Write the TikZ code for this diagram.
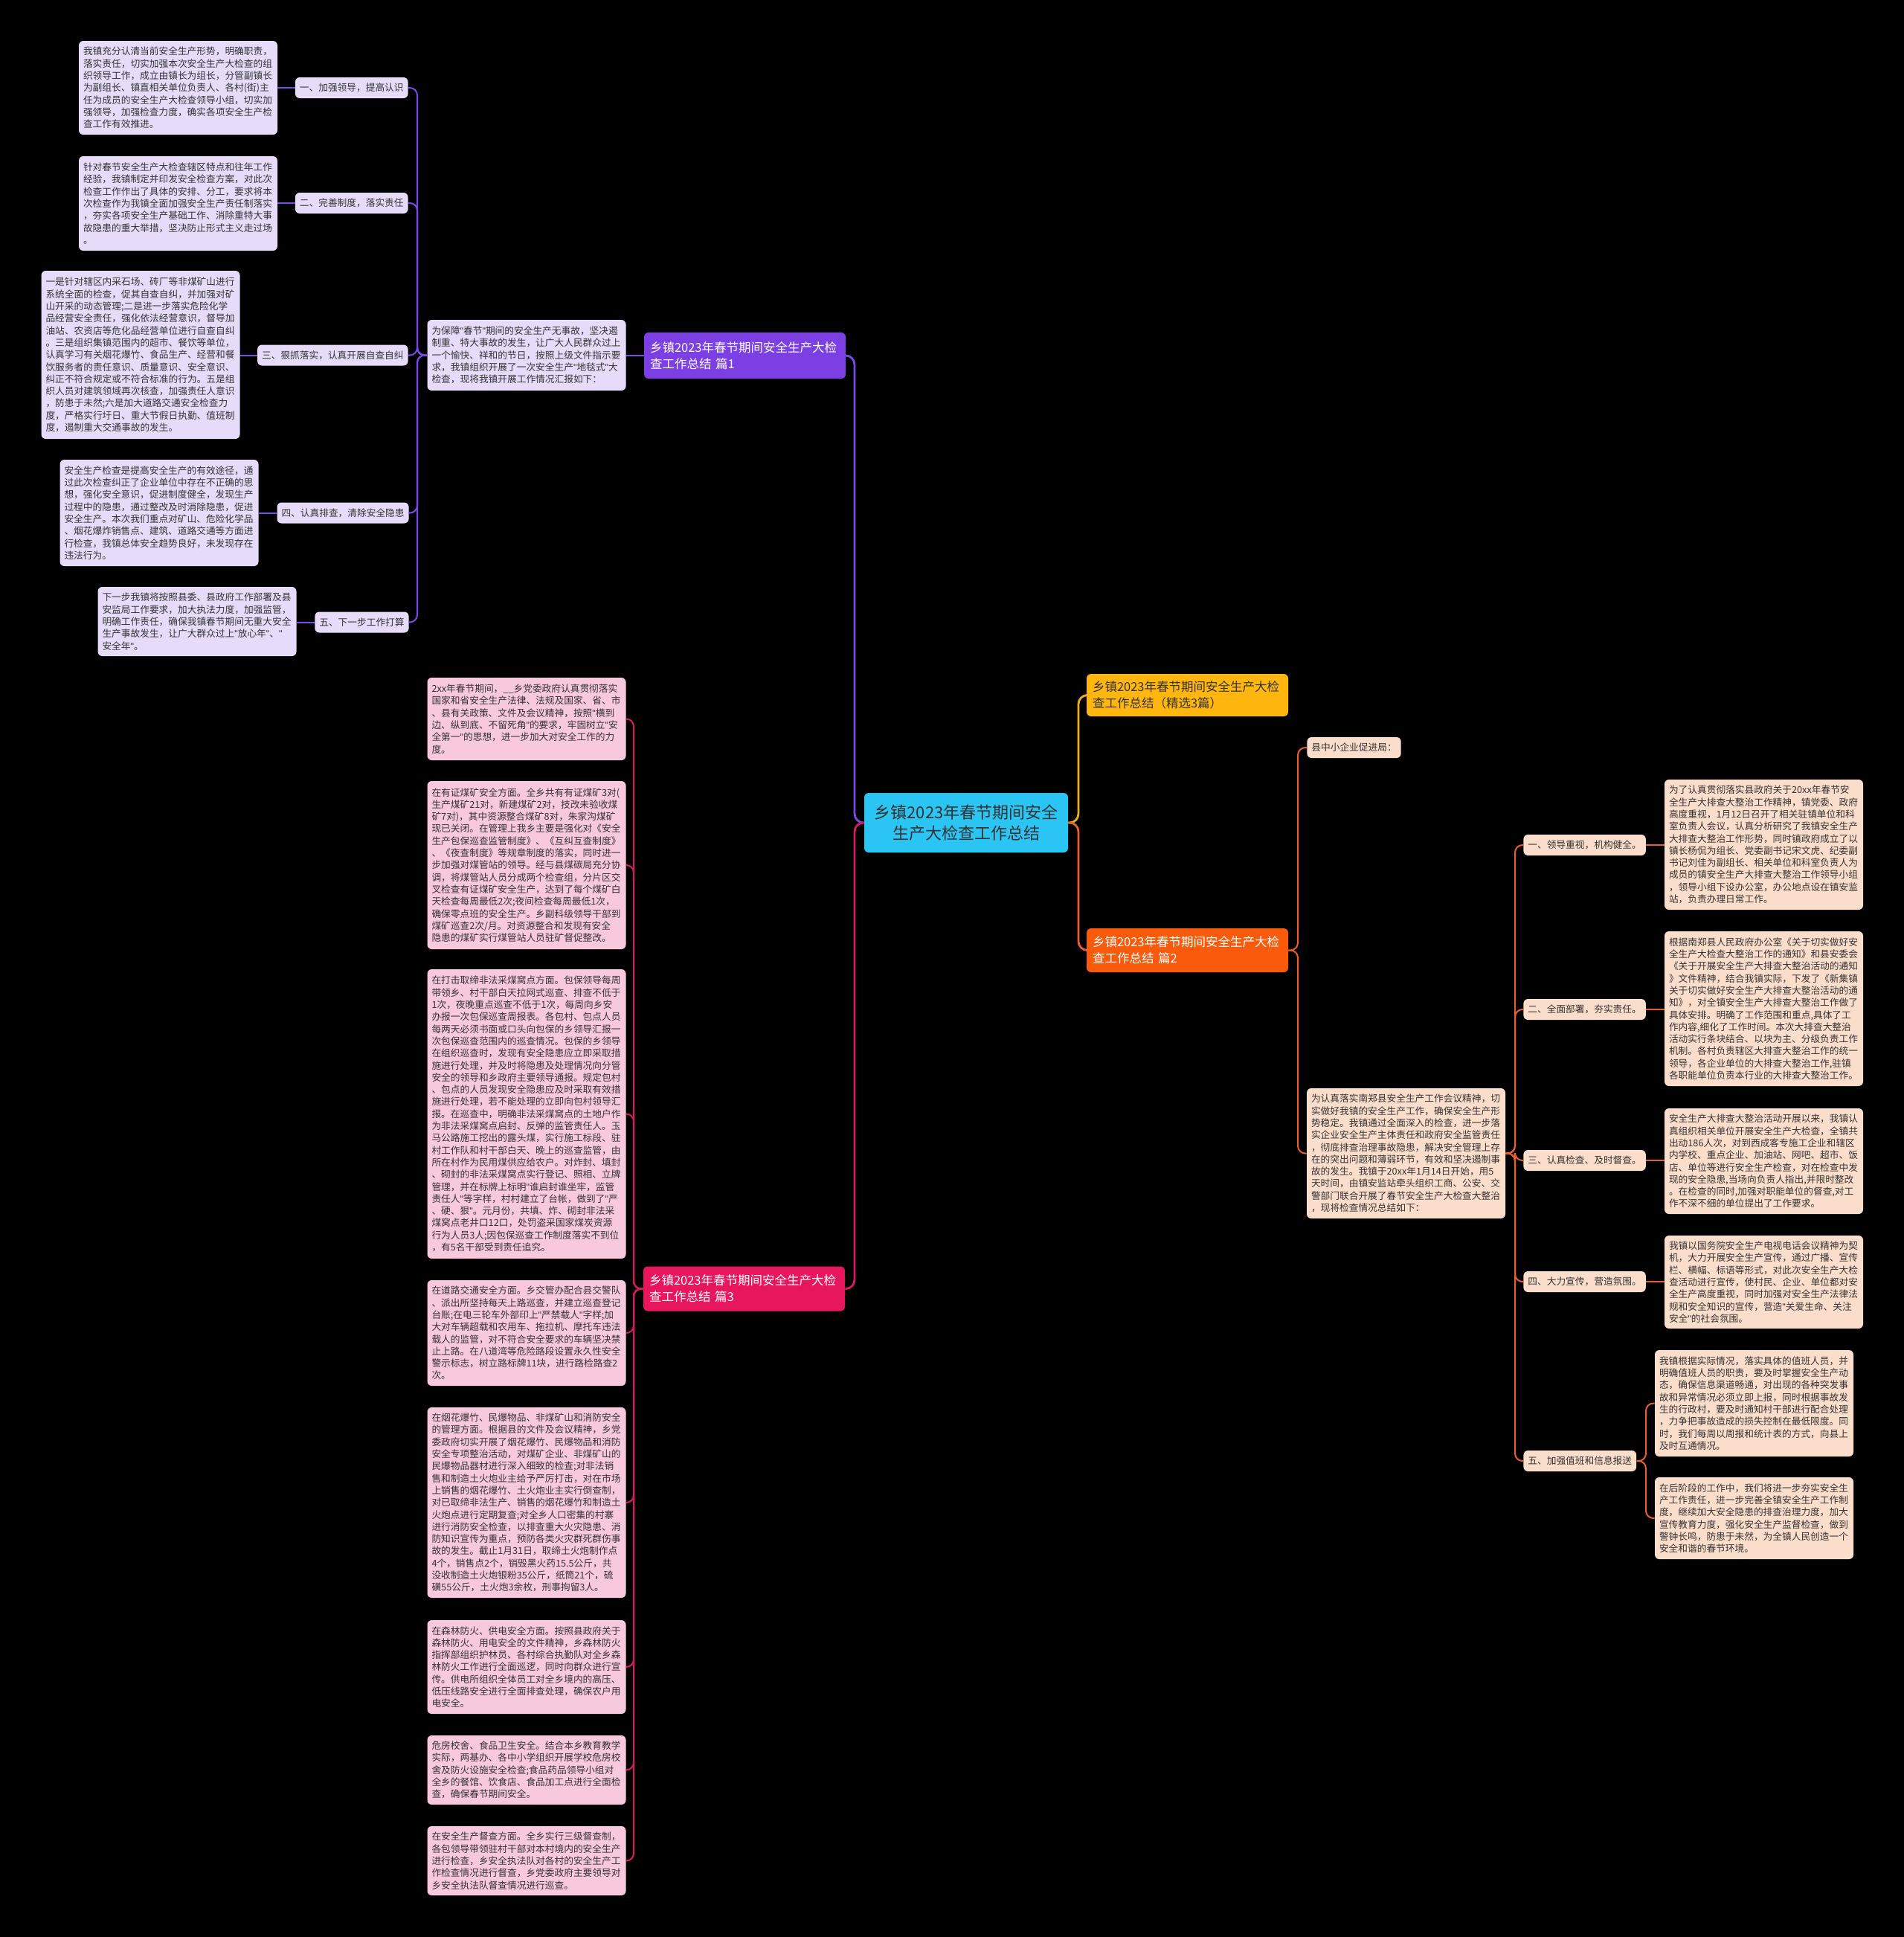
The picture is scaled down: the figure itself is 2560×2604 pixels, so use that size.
\documentclass[tikz,border=0pt]{standalone}
\usepackage{fontspec}
\setmainfont{Noto Sans CJK SC}
\newfontfamily\latf{Liberation Sans}
\newcommand\Q{{\latf"}}
\usetikzlibrary{calc}
\definecolor{txt}{HTML}{333333}
\definecolor{purM}{HTML}{7B3FE4}
\definecolor{purLn}{HTML}{7A4AE8}
\definecolor{purL}{HTML}{E6DCFA}
\definecolor{pinM}{HTML}{E8175D}
\definecolor{pinLn}{HTML}{D81B60}
\definecolor{pinL}{HTML}{F8C8DC}
\definecolor{oraM}{HTML}{F95A0C}
\definecolor{oraLn}{HTML}{E8602C}
\definecolor{oraL}{HTML}{FBDDCB}
\definecolor{yelM}{HTML}{FFB70F}
\definecolor{yelLn}{HTML}{E8B020}
\definecolor{rootC}{HTML}{2BC5F4}
\begin{document}
\begin{tikzpicture}[x=0.5pt,y=-0.5pt,
  tb/.style={fill=#1, rounded corners=3pt, text=txt, font=\fontsize{6.35}{8.15}\selectfont, align=left, inner xsep=3pt, inner ysep=1pt, anchor=center, text width=127.5pt},
  lb/.style={fill=#1, rounded corners=3pt, text=txt, font=\fontsize{6.35}{8.15}\selectfont, inner xsep=3pt, inner ysep=0pt, minimum height=14pt},
  mn/.style={fill=#1, rounded corners=3pt, font=\fontsize{8.25}{10.9}\selectfont, align=left, text width=127.5pt, inner xsep=4pt, minimum height=30pt, anchor=center},
  con/.style={draw=#1, line width=1pt, rounded corners=5pt},
  bcon/.style={draw=#1, line width=1.4pt, rounded corners=6pt}]
\useasboundingbox (0,0) rectangle (2560,2604);
\fill[black] (0,0) rectangle (2560,2604);

% trunk coordinates
\coordinate (t0) at (1149,0);
\coordinate (t1) at (561,0);
\coordinate (t2) at (1450,0);
\coordinate (t3) at (852,0);
\coordinate (t4) at (1745,0);
\coordinate (t5) at (2037,0);
\coordinate (t6) at (2213,0);

% root
\node[fill=rootC, rounded corners=3pt, text=txt, font=\fontsize{11}{14}\selectfont, align=center, text width=130pt, inner xsep=3.5pt, minimum height=40pt] (root) at (1299,1106) {乡镇2023年春节期间安全\\生产大检查工作总结};

% ---------- branch 1 (purple) ----------
\node[mn=purM, text=white, minimum height=31pt] (p1) at (1001.5,478) {乡镇2023年春节期间安全生产大检\\查工作总结 篇1};
\node[tb=purL, minimum height=47.5pt] (in1) at (708,477.5) {为保障\Q{}春节\Q{}期间的安全生产无事故，坚决遏\\制重、特大事故的发生，让广大人民群众过上\\一个愉快、祥和的节日，按照上级文件指示要\\求，我镇组织开展了一次安全生产\Q{}地毯式\Q{}大\\检查，现将我镇开展工作情况汇报如下：};

\node[lb=purL, anchor=east] (a1) at (549,118) {一、加强领导，提高认识};
\node[lb=purL, anchor=east] (a2) at (549,273) {二、完善制度，落实责任};
\node[lb=purL, anchor=east] (a3) at (549,477.5) {三、狠抓落实，认真开展自查自纠};
\node[lb=purL, anchor=east] (a4) at (550,689.5) {四、认真排查，清除安全隐患};
\node[lb=purL, anchor=east] (a5) at (550,836.5) {五、下一步工作打算};

\node[tb=purL, minimum height=63pt] (b1) at (239.5,118) {我镇充分认清当前安全生产形势，明确职责，\\落实责任，切实加强本次安全生产大检查的组\\织领导工作，成立由镇长为组长，分管副镇长\\为副组长、镇直相关单位负责人、各村(街)主\\任为成员的安全生产大检查领导小组，切实加\\强领导，加强检查力度，确实各项安全生产检\\查工作有效推进。};
\node[tb=purL, minimum height=63.5pt] (b2) at (239.5,273.5) {针对春节安全生产大检查辖区特点和往年工作\\经验，我镇制定并印发安全检查方案，对此次\\检查工作作出了具体的安排、分工，要求将本\\次检查作为我镇全面加强安全生产责任制落实\\，夯实各项安全生产基础工作、消除重特大事\\故隐患的重大举措，坚决防止形式主义走过场\\。};
\node[tb=purL, minimum height=113pt] (b3) at (189,477) {一是针对辖区内采石场、砖厂等非煤矿山进行\\系统全面的检查，促其自查自纠，并加强对矿\\山开采的动态管理;二是进一步落实危险化学\\品经营安全责任，强化依法经营意识，督导加\\油站、农资店等危化品经营单位进行自查自纠\\。三是组织集镇范围内的超市、餐饮等单位，\\认真学习有关烟花爆竹、食品生产、经营和餐\\饮服务者的责任意识、质量意识、安全意识、\\纠正不符合规定或不符合标准的行为。五是组\\织人员对建筑领域再次核查，加强责任人意识\\，防患于未然;六是加大道路交通安全检查力\\度，严格实行圩日、重大节假日执勤、值班制\\度，遏制重大交通事故的发生。};
\node[tb=purL, minimum height=71.5pt] (b4) at (214,689.5) {安全生产检查是提高安全生产的有效途径，通\\过此次检查纠正了企业单位中存在不正确的思\\想，强化安全意识，促进制度健全，发现生产\\过程中的隐患，通过整改及时消除隐患，促进\\安全生产。本次我们重点对矿山、危险化学品\\、烟花爆炸销售点、建筑、道路交通等方面进\\行检查，我镇总体安全趋势良好，未发现存在\\违法行为。};
\node[tb=purL, minimum height=46.5pt] (b5) at (265,835.5) {下一步我镇将按照县委、县政府工作部署及县\\安监局工作要求，加大执法力度，加强监管，\\明确工作责任，确保我镇春节期间无重大安全\\生产事故发生，让广大群众过上\Q{}放心年\Q{}、\Q{}\\安全年\Q{}。};

% ---------- branch 3 (pink) ----------
\node[mn=pinM, text=white, minimum height=30pt] (p3) at (1000.5,1732.5) {乡镇2023年春节期间安全生产大检\\查工作总结 篇3};
\node[tb=pinL, minimum height=55.5pt] (q1) at (708,966.5) {2xx年春节期间，\_\_乡党委政府认真贯彻落实\\国家和省安全生产法律、法规及国家、省、市\\、县有关政策、文件及会议精神，按照\Q{}横到\\边、纵到底、不留死角\Q{}的要求，牢固树立\Q{}安\\全第一\Q{}的思想，进一步加大对安全工作的力\\度。};
\node[tb=pinL, minimum height=113pt] (q2) at (708,1163) {在有证煤矿安全方面。全乡共有有证煤矿3对(\\生产煤矿21对，新建煤矿2对，技改未验收煤\\矿7对)，其中资源整合煤矿8对，朱家沟煤矿\\现已关闭。在管理上我乡主要是强化对《安全\\生产包保巡查监管制度》、《互纠互查制度》\\、《夜查制度》等规章制度的落实，同时进一\\步加强对煤管站的领导。经与县煤碳局充分协\\调，将煤管站人员分成两个检查组，分片区交\\叉检查有证煤矿安全生产，达到了每个煤矿白\\天检查每周最低2次;夜间检查每周最低1次，\\确保零点班的安全生产。乡副科级领导干部到\\煤矿巡查2次/月。对资源整合和发现有安全\\隐患的煤矿实行煤管站人员驻矿督促整改。};
\node[tb=pinL, minimum height=194.5pt] (q3) at (708,1497.5) {在打击取缔非法采煤窝点方面。包保领导每周\\带领乡、村干部白天拉网式巡查、排查不低于\\1次，夜晚重点巡查不低于1次，每周向乡安\\办报一次包保巡查周报表。各包村、包点人员\\每两天必须书面或口头向包保的乡领导汇报一\\次包保巡查范围内的巡查情况。包保的乡领导\\在组织巡查时，发现有安全隐患应立即采取措\\施进行处理，并及时将隐患及处理情况向分管\\安全的领导和乡政府主要领导通报。规定包村\\、包点的人员发现安全隐患应及时采取有效措\\施进行处理，若不能处理的立即向包村领导汇\\报。在巡查中，明确非法采煤窝点的土地户作\\为非法采煤窝点启封、反弹的监管责任人。玉\\马公路施工挖出的露头煤，实行施工标段、驻\\村工作队和村干部白天、晚上的巡查监管，由\\所在村作为民用煤供应给农户。对炸封、填封\\、砌封的非法采煤窝点实行登记、照相、立牌\\管理，并在标牌上标明\Q{}谁启封谁坐牢，监管\\责任人\Q{}等字样，村村建立了台帐，做到了\Q{}严\\、硬、狠\Q{}。元月份，共填、炸、砌封非法采\\煤窝点老井口12口，处罚盗采国家煤炭资源\\行为人员3人;因包保巡查工作制度落实不到位\\，有5名干部受到责任追究。};
\node[tb=pinL, minimum height=71pt] (q4) at (708,1792) {在道路交通安全方面。乡交管办配合县交警队\\、派出所坚持每天上路巡查，并建立巡查登记\\台账;在电三轮车外部印上\Q{}严禁载人\Q{}字样;加\\大对车辆超载和农用车、拖拉机、摩托车违法\\载人的监管，对不符合安全要求的车辆坚决禁\\止上路。在八道湾等危险路段设置永久性安全\\警示标志，树立路标牌11块，进行路检路查2\\次。};
\node[tb=pinL, minimum height=128pt] (q5) at (708,2020) {在烟花爆竹、民爆物品、非煤矿山和消防安全\\的管理方面。根据县的文件及会议精神，乡党\\委政府切实开展了烟花爆竹、民爆物品和消防\\安全专项整治活动，对煤矿企业、非煤矿山的\\民爆物品器材进行深入细致的检查;对非法销\\售和制造土火炮业主给予严厉打击，对在市场\\上销售的烟花爆竹、土火炮业主实行倒查制，\\对已取缔非法生产、销售的烟花爆竹和制造土\\火炮点进行定期复查;对全乡人口密集的村寨\\进行消防安全检查，以排查重大火灾隐患、消\\防知识宣传为重点，预防各类火灾群死群伤事\\故的发生。截止1月31日，取缔土火炮制作点\\4个，销售点2个，销毁黑火药15.5公斤，共\\没收制造土火炮银粉35公斤，纸筒21个，硫\\磺55公斤，土火炮3余枚，刑事拘留3人。};
\node[tb=pinL, minimum height=63pt] (q6) at (708,2241) {在森林防火、供电安全方面。按照县政府关于\\森林防火、用电安全的文件精神，乡森林防火\\指挥部组织护林员、各村综合执勤队对全乡森\\林防火工作进行全面巡逻，同时向群众进行宣\\传。供电所组织全体员工对全乡境内的高压、\\低压线路安全进行全面排查处理，确保农户用\\电安全。};
\node[tb=pinL, minimum height=46.5pt] (q7) at (708,2379.5) {危房校舍、食品卫生安全。结合本乡教育教学\\实际，两基办、各中小学组织开展学校危房校\\舍及防火设施安全检查;食品药品领导小组对\\全乡的餐馆、饮食店、食品加工点进行全面检\\查，确保春节期间安全。};
\node[tb=pinL, minimum height=46.5pt] (q8) at (708,2501.5) {在安全生产督查方面。全乡实行三级督查制，\\各包领导带领驻村干部对本村境内的安全生产\\进行检查，乡安全执法队对各村的安全生产工\\作检查情况进行督查，乡党委政府主要领导对\\乡安全执法队督查情况进行巡查。};

% ---------- right side ----------
\node[mn=yelM, text=txt, minimum height=28.5pt] (y1) at (1596.5,934.5) {乡镇2023年春节期间安全生产大检\\查工作总结（精选3篇）};
\node[mn=oraM, text=white, minimum height=29.5pt] (p2) at (1596.5,1277.5) {乡镇2023年春节期间安全生产大检\\查工作总结 篇2};
\node[lb=oraL, anchor=west] (k1) at (1757,1005) {县中小企业促进局：};
\node[tb=oraL, minimum height=87.5pt] (in2) at (1890.5,1550.5) {为认真落实南郑县安全生产工作会议精神，切\\实做好我镇的安全生产工作，确保安全生产形\\势稳定。我镇通过全面深入的检查，进一步落\\实企业安全生产主体责任和政府安全监管责任\\，彻底排查治理事故隐患，解决安全管理上存\\在的突出问题和薄弱环节，有效和坚决遏制事\\故的发生。我镇于20xx年1月14日开始，用5\\天时间，由镇安监站牵头组织工商、公安、交\\警部门联合开展了春节安全生产大检查大整治\\，现将检查情况总结如下：};

\node[lb=oraL, anchor=west] (c1) at (2048,1136) {一、领导重视，机构健全。};
\node[lb=oraL, anchor=west] (c2) at (2048,1357) {二、全面部署，夯实责任。};
\node[lb=oraL, anchor=west] (c3) at (2048,1560) {三、认真检查、及时督查。};
\node[lb=oraL, anchor=west] (c4) at (2048,1723) {四、大力宣传，营造氛围。};
\node[lb=oraL, anchor=west] (c5) at (2048,1964) {五、加强值班和信息报送};

\node[tb=oraL, minimum height=87.5pt] (r1) at (2371.5,1135.5) {为了认真贯彻落实县政府关于20xx年春节安\\全生产大排查大整治工作精神，镇党委、政府\\高度重视，1月12日召开了相关驻镇单位和科\\室负责人会议，认真分析研究了我镇安全生产\\大排查大整治工作形势，同时镇政府成立了以\\镇长杨侃为组长、党委副书记宋文虎、纪委副\\书记刘佳为副组长、相关单位和科室负责人为\\成员的镇安全生产大排查大整治工作领导小组\\，领导小组下设办公室，办公地点设在镇安监\\站，负责办理日常工作。};
\node[tb=oraL, minimum height=104pt] (r2) at (2371.5,1356) {根据南郑县人民政府办公室《关于切实做好安\\全生产大检查大整治工作的通知》和县安委会\\《关于开展安全生产大排查大整治活动的通知\\》文件精神，结合我镇实际，下发了《新集镇\\关于切实做好安全生产大排查大整治活动的通\\知》，对全镇安全生产大排查大整治工作做了\\具体安排。明确了工作范围和重点,具体了工\\作内容,细化了工作时间。本次大排查大整治\\活动实行条块结合、以块为主、分级负责工作\\机制。各村负责辖区大排查大整治工作的统一\\领导，各企业单位的大排查大整治工作,驻镇\\各职能单位负责本行业的大排查大整治工作。};
\node[tb=oraL, minimum height=71pt] (r3) at (2371.5,1561) {安全生产大排查大整治活动开展以来，我镇认\\真组织相关单位开展安全生产大检查，全镇共\\出动186人次，对到西成客专施工企业和辖区\\内学校、重点企业、加油站、网吧、超市、饭\\店、单位等进行安全生产检查，对在检查中发\\现的安全隐患,当场向负责人指出,并限时整改\\。在检查的同时,加强对职能单位的督查,对工\\作不深不细的单位提出了工作要求。};
\node[tb=oraL, minimum height=62.5pt] (r4) at (2371.5,1723.5) {我镇以国务院安全生产电视电话会议精神为契\\机，大力开展安全生产宣传，通过广播、宣传\\栏、横幅、标语等形式，对此次安全生产大检\\查活动进行宣传，使村民、企业、单位都对安\\全生产高度重视，同时加强对安全生产法律法\\规和安全知识的宣传，营造\Q{}关爱生命、关注\\安全\Q{}的社会氛围。};
\node[tb=oraL, minimum height=71.5pt] (r5) at (2358.5,1886.5) {我镇根据实际情况，落实具体的值班人员，并\\明确值班人员的职责，要及时掌握安全生产动\\态，确保信息渠道畅通，对出现的各种突发事\\故和异常情况必须立即上报，同时根据事故发\\生的行政村，要及时通知村干部进行配合处理\\，力争把事故造成的损失控制在最低限度。同\\时，我们每周以周报和统计表的方式，向县上\\及时互通情况。};
\node[tb=oraL, minimum height=55pt] (r6) at (2358.5,2041) {在后阶段的工作中，我们将进一步夯实安全生\\产工作责任，进一步完善全镇安全生产工作制\\度，继续加大安全隐患的排查治理力度，加大\\宣传教育力度，强化安全生产监督检查，做到\\警钟长鸣，防患于未然，为全镇人民创造一个\\安全和谐的春节环境。};

% ---------- connectors ----------
\draw[bcon=purLn] (root.west) -- (root.west -| t0) |- (p1.east);
\draw[bcon=pinLn] (root.west) -- (root.west -| t0) |- (p3.east);
\draw[bcon=yelLn] (root.east) -- (root.east -| t2) |- (y1.west);
\draw[bcon=oraLn] (root.east) -- (root.east -| t2) |- (p2.west);

\draw[con=purLn] (p1.west) -- (p1.west -| in1.east);
\foreach \n in {a1,a2,a3,a4,a5}{
  \draw[con=purLn] (in1.west) -- (in1.west -| t1) |- (\n.east);
}
\draw[con=purLn] (a1.west) -- (a1.west -| b1.east);
\draw[con=purLn] (a2.west) -- (a2.west -| b2.east);
\draw[con=purLn] (a3.west) -- (a3.west -| b3.east);
\draw[con=purLn] (a4.west) -- (a4.west -| b4.east);
\draw[con=purLn] (a5.west) -- (a5.west -| b5.east);

\foreach \n in {q1,q2,q3,q4,q5,q6,q7,q8}{
  \draw[con=pinLn] (p3.west) -- (p3.west -| t3) |- (\n.east);
}

\draw[con=oraLn] (p2.east) -- (p2.east -| t4) |- (k1.west);
\draw[con=oraLn] (p2.east) -- (p2.east -| t4) |- (in2.west);
\foreach \n in {c1,c2,c3,c4,c5}{
  \draw[con=oraLn] (in2.east) -- (in2.east -| t5) |- (\n.west);
}
\draw[con=oraLn] (c1.east) -- (c1.east -| r1.west);
\draw[con=oraLn] (c2.east) -- (c2.east -| r2.west);
\draw[con=oraLn] (c3.east) -- (c3.east -| r3.west);
\draw[con=oraLn] (c4.east) -- (c4.east -| r4.west);
\draw[con=oraLn] (c5.east) -- (c5.east -| t6) |- (r5.west);
\draw[con=oraLn] (c5.east) -- (c5.east -| t6) |- (r6.west);
\end{tikzpicture}
\end{document}
